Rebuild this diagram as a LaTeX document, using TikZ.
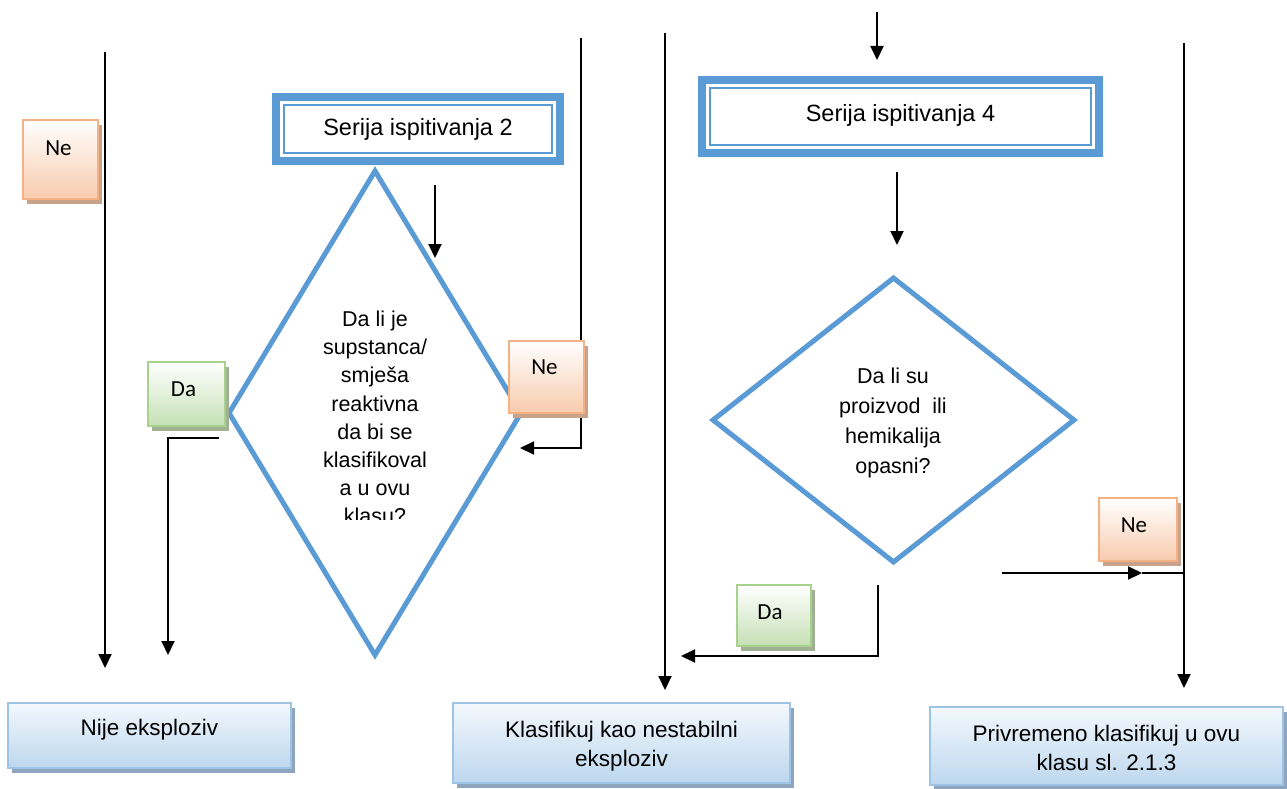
\documentclass[tikz,border=0pt]{standalone}
\usepackage{fontspec}
\setmainfont{Liberation Sans}
\newfontfamily\lblfont{Carlito}
\usetikzlibrary{shapes.geometric,arrows.meta,shadows}

\definecolor{dblue}{HTML}{5B9BD5}
\definecolor{neborder}{HTML}{F4B183}
\definecolor{nefill}{HTML}{F8CBAD}
\definecolor{neshadow}{RGB}{200,162,138}
\definecolor{daborder}{HTML}{A9D18E}
\definecolor{dafill}{HTML}{C5E0B4}
\definecolor{dashadow}{RGB}{160,176,146}
\definecolor{resborder}{HTML}{9DC3E6}
\definecolor{restop}{HTML}{F3F8FD}
\definecolor{resfill}{HTML}{BDD7EE}
\definecolor{resshadow}{RGB}{143,165,190}

\begin{document}
\begin{tikzpicture}[x=1pt,y=-1pt,
  flow/.style={draw=black, line width=2pt},
  arr/.style={flow, -{Triangle[length=14pt,width=13pt]}},
  decision/.style={diamond, draw=dblue, line width=5pt, inner sep=0pt},
  testbox/.style={rectangle, draw=dblue, line width=8pt, inner sep=0pt, outer sep=0pt},
  testinner/.style={draw=dblue, line width=2pt},
  bigtext/.style={inner sep=0pt, align=center, font=\fontsize{22.5}{28.5}\selectfont},
  qtext/.style={inner sep=0pt, align=center, font=\fontsize{21.5}{28.1}\selectfont},
  nebox/.style={rectangle, draw=neborder, line width=2pt, inner sep=0pt,
    top color=white, bottom color=nefill,
    drop shadow={shadow xshift=4pt, shadow yshift=-5pt, fill=neshadow, opacity=1}},
  dabox/.style={rectangle, draw=daborder, line width=2pt, inner sep=0pt,
    top color=white, bottom color=dafill,
    drop shadow={shadow xshift=4pt, shadow yshift=-5pt, fill=dashadow, opacity=1}},
  resbox/.style={rectangle, draw=resborder, line width=2pt, inner sep=0pt,
    top color=restop, bottom color=resfill,
    drop shadow={shadow xshift=4pt, shadow yshift=-5pt, fill=resshadow, opacity=1}},
  lbltext/.style={inner sep=0pt, font=\lblfont\fontsize{23}{26}\selectfont}
]
\useasboundingbox (0,0) rectangle (1287,789);

% decisions
\node[decision, minimum width=294pt, minimum height=486pt] (d1) at (375,413) {};
\node[decision, minimum width=363pt, minimum height=286pt] (d2) at (893.5,420) {};

\begin{scope}
  \clip (290,290) rectangle (460,519);
  \node[qtext, anchor=north] (q1) at (375,311)
    {Da li je\\supstanca/\\smješa\\reaktivna\\da bi se\\klasifikoval\\a u ovu\\klasu?};
\end{scope}
\node[inner sep=0pt, align=center, font=\fontsize{21.5}{30}\selectfont] (q2) at (893,423)
  {Da li su\\proizvod\ \ ili\\hemikalija\\opasni?};

% test series boxes: thick frame with a thin inner frame
\node[testbox, minimum width=284pt, minimum height=64pt] (s2) at (418,129) {};
\draw[testinner] ([shift={(8pt,-8pt)}]s2.north west) rectangle ([shift={(-8pt,8pt)}]s2.south east);
\node[bigtext, font=\fontsize{23.5}{28}\selectfont] (s2t) at (s2.center) {Serija ispitivanja 2};

\node[testbox, minimum width=397pt, minimum height=73pt] (s4) at (900.5,116.5) {};
\draw[testinner] ([shift={(8pt,-8pt)}]s4.north west) rectangle ([shift={(-8pt,8pt)}]s4.south east);
\node[bigtext, font=\fontsize{23.5}{28}\selectfont] (s4t) at ([yshift=1pt]s4.center) {Serija ispitivanja 4};

% connector end points
\coordinate (a1s) at (105,52);   \coordinate (a1e) at (105,668);
\coordinate (a2s) at (435,185);  \coordinate (a2e) at (435,258);
\coordinate (a3s) at (581,38);   \coordinate (a3k) at (581,448);  \coordinate (a3e) at (520,448);
\coordinate (a4s) at (219,438);  \coordinate (a4k) at (168,438);  \coordinate (a4e) at (168,655);
\coordinate (a5s) at (665,33);   \coordinate (a5e) at (665,690);
\coordinate (a6s) at (877,12);   \coordinate (a6e) at (877,60);
\coordinate (a7s) at (897,172);  \coordinate (a7e) at (897,245);
\coordinate (a8s) at (878,585);  \coordinate (a8k) at (878,656);  \coordinate (a8e) at (681,656);
\coordinate (a9s) at (1184,43);  \coordinate (a9e) at (1184,688);
\coordinate (a10s) at (1002,573); \coordinate (a10m) at (1142,573); \coordinate (a10e) at (1184,573);

\draw[arr] (a1s) -- (a1e);
\draw[arr] (a2s) -- (a2e);
\draw[arr] (a3s) -- (a3k) -- (a3e);
\draw[arr] (a4s) -- (a4k) -- (a4e);
\draw[arr] (a5s) -- (a5e);
\draw[arr] (a6s) -- (a6e);
\draw[arr] (a7s) -- (a7e);
\draw[arr] (a8s) -- (a8k) -- (a8e);
\draw[arr] (a9s) -- (a9e);
\draw[arr] (a10s) -- (a10m);
\draw[flow] (a10m) -- (a10e);

% answer labels
\node[nebox, minimum width=75pt, minimum height=79pt] (ne1) at (60.5,159.5) {};
\node[lbltext] at ([shift={(-2pt,11pt)}]ne1.center) {Ne};
\node[nebox, minimum width=75pt, minimum height=72pt] (ne2) at (546.5,377) {};
\node[lbltext] at ([shift={(-2pt,10pt)}]ne2.center) {Ne};
\node[nebox, minimum width=78pt, minimum height=63pt] (ne3) at (1138,529.5) {};
\node[lbltext] at ([shift={(-4pt,4pt)}]ne3.center) {Ne};
\node[dabox, minimum width=77pt, minimum height=64pt] (da1) at (186.5,394) {};
\node[lbltext] at ([shift={(-3pt,5pt)}]da1.center) {Da};
\node[dabox, minimum width=74pt, minimum height=61pt] (da2) at (774,615.5) {};
\node[lbltext] at ([shift={(-4pt,3pt)}]da2.center) {Da};

% outcomes
\node[resbox, minimum width=283pt, minimum height=65pt] (r1) at (149.5,735.5) {};
\node[bigtext] at ([yshift=6pt]r1.center) {Nije eksploziv};
\node[resbox, minimum width=337pt, minimum height=80pt] (r2) at (621.5,743) {};
\node[bigtext] at ([yshift=-3pt]r2.center) {Klasifikuj kao nestabilni\\eksploziv};
\node[resbox, minimum width=353pt, minimum height=78pt] (r3) at (1106.5,746) {};
\node[bigtext] at ([yshift=-2pt]r3.center) {Privremeno klasifikuj u ovu\\klasu sl. 2.1.3};
\end{tikzpicture}
\end{document}
